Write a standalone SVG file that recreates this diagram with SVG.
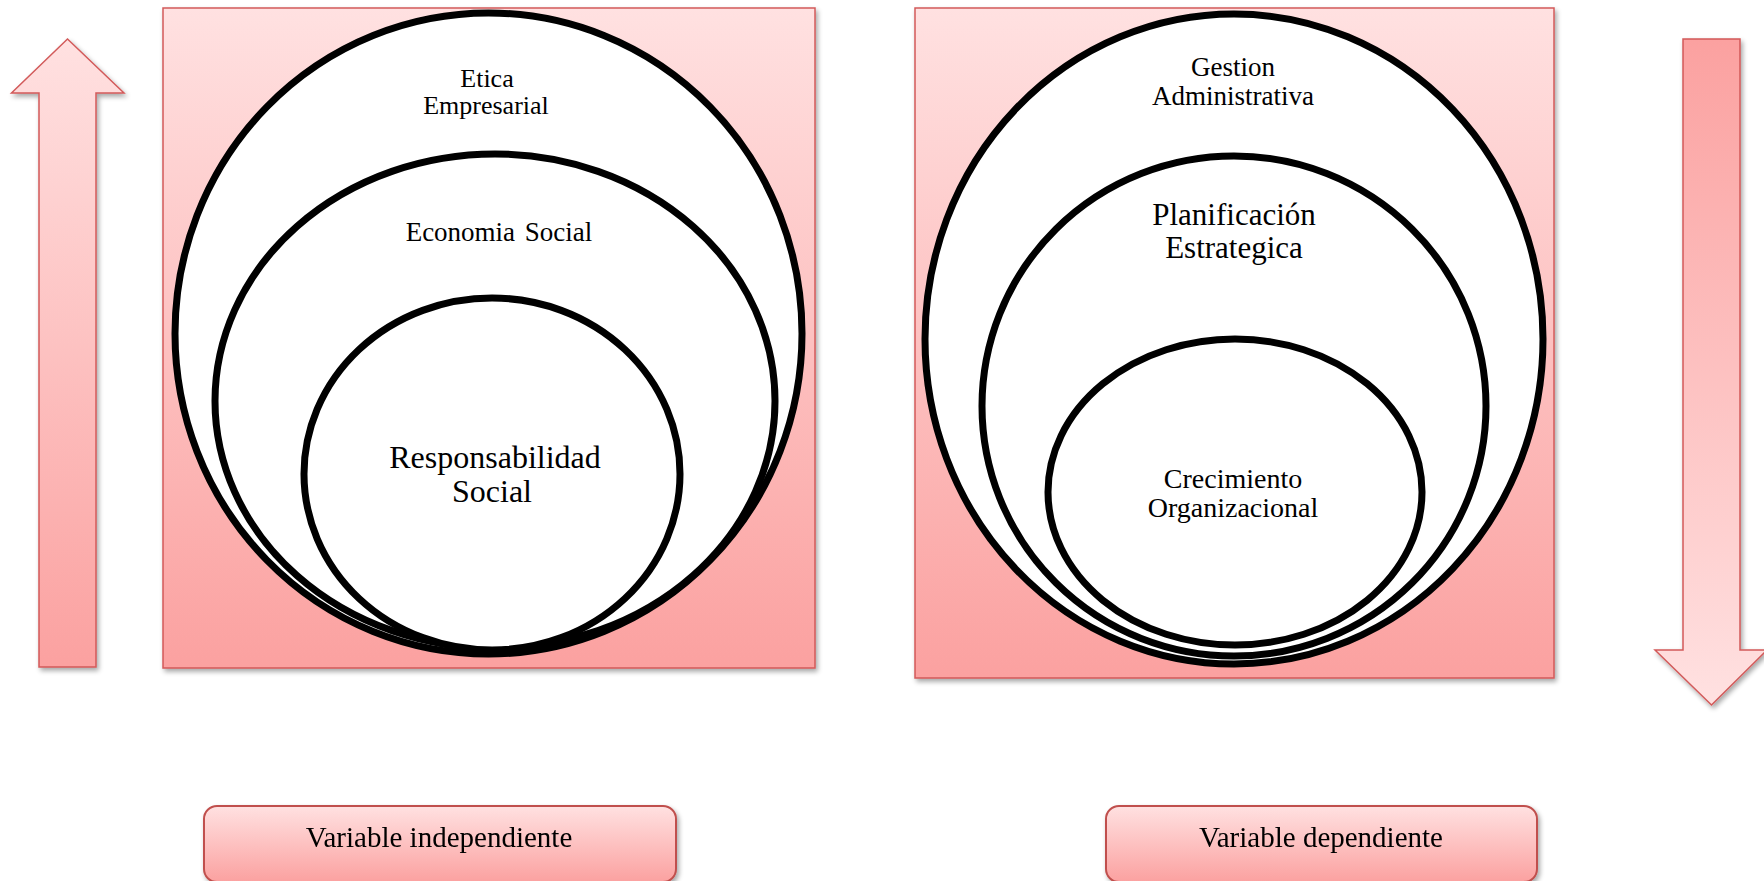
<svg xmlns="http://www.w3.org/2000/svg" width="1764" height="881" viewBox="0 0 1764 881">
  <defs>
    <linearGradient id="pinkDown" x1="0" y1="0" x2="0" y2="1">
      <stop offset="0" stop-color="#ffe1e1"/>
      <stop offset="1" stop-color="#fba1a0"/>
    </linearGradient>
    <linearGradient id="pinkUp" x1="0" y1="0" x2="0" y2="1">
      <stop offset="0" stop-color="#fba1a0"/>
      <stop offset="1" stop-color="#ffe1e1"/>
    </linearGradient>
    <filter id="shadow" x="-10%" y="-10%" width="120%" height="120%">
      <feGaussianBlur in="SourceAlpha" stdDeviation="2.5"/>
      <feOffset dx="2" dy="3" result="blur"/>
      <feComponentTransfer><feFuncA type="linear" slope="0.35"/></feComponentTransfer>
      <feMerge><feMergeNode/><feMergeNode in="SourceGraphic"/></feMerge>
    </filter>
  </defs>
  <style>
    .panel { fill: url(#pinkDown); stroke: #d25a5a; stroke-width: 1.5; }
    .arrowUp { fill: url(#pinkDown); stroke: #d25a5a; stroke-width: 1.5; }
    .arrowDown { fill: url(#pinkUp); stroke: #d25a5a; stroke-width: 1.5; }
    .ring { fill: #ffffff; stroke: #000000; stroke-width: 7; }
    .box { fill: url(#pinkDown); stroke: #c0504d; stroke-width: 2; }
    .lbl { fill: #000000; text-anchor: middle; }
  </style>
  <rect width="1764" height="881" fill="#ffffff"/>

  <!-- upward arrow, left side -->
  <g id="arrow-up" filter="url(#shadow)">
    <polygon class="arrowUp" points="67.5,39 124,93 96,93 96,667 39,667 39,93 11.5,93"/>
  </g>

  <!-- downward arrow, right side -->
  <g id="arrow-down" filter="url(#shadow)">
    <polygon class="arrowDown" points="1683,39 1740,39 1740,650 1767,650 1711.5,705 1655,650 1683,650"/>
  </g>

  <g font-family="Liberation Serif, serif">
    <!-- independent variable panel -->
    <g id="panel-independiente">
      <rect class="panel" x="163" y="8" width="652" height="660" filter="url(#shadow)"/>
      <g id="etica-empresarial">
        <ellipse class="ring" cx="488.5" cy="333.5" rx="313.5" ry="320.5"/>
        <text class="lbl" x="487" y="87" font-size="26">Etica</text>
        <text class="lbl" x="486" y="114" font-size="26">Empresarial</text>
      </g>
      <g id="economia-social">
        <ellipse class="ring" cx="495" cy="401" rx="280" ry="247"/>
        <text class="lbl" x="499" y="241" font-size="27" word-spacing="3">Economia Social</text>
      </g>
      <g id="responsabilidad-social">
        <ellipse class="ring" cx="492" cy="474" rx="188" ry="176"/>
        <text class="lbl" x="495" y="468" font-size="32">Responsabilidad</text>
        <text class="lbl" x="492" y="502" font-size="32">Social</text>
      </g>
    </g>

    <!-- dependent variable panel -->
    <g id="panel-dependiente">
      <rect class="panel" x="915" y="8" width="639" height="670" filter="url(#shadow)"/>
      <g id="gestion-administrativa">
        <ellipse class="ring" cx="1234" cy="339" rx="309" ry="325"/>
        <text class="lbl" x="1233" y="76" font-size="27">Gestion</text>
        <text class="lbl" x="1233" y="105" font-size="27">Administrativa</text>
      </g>
      <g id="planificacion-estrategica">
        <ellipse class="ring" cx="1234" cy="406" rx="252" ry="250"/>
        <text class="lbl" x="1234" y="225" font-size="31">Planificación</text>
        <text class="lbl" x="1234" y="258" font-size="31">Estrategica</text>
      </g>
      <g id="crecimiento-organizacional">
        <ellipse class="ring" cx="1235" cy="492" rx="187" ry="153"/>
        <text class="lbl" x="1233" y="488" font-size="28">Crecimiento</text>
        <text class="lbl" x="1233" y="517" font-size="28">Organizacional</text>
      </g>
    </g>

    <!-- caption boxes -->
    <g id="label-independiente" filter="url(#shadow)">
      <rect class="box" x="204" y="806" width="472" height="76" rx="13" ry="13"/>
      <text class="lbl" x="439" y="847" font-size="29">Variable independiente</text>
    </g>
    <g id="label-dependiente" filter="url(#shadow)">
      <rect class="box" x="1106" y="806" width="431" height="76" rx="13" ry="13"/>
      <text class="lbl" x="1321" y="847" font-size="29">Variable dependiente</text>
    </g>
  </g>
</svg>
